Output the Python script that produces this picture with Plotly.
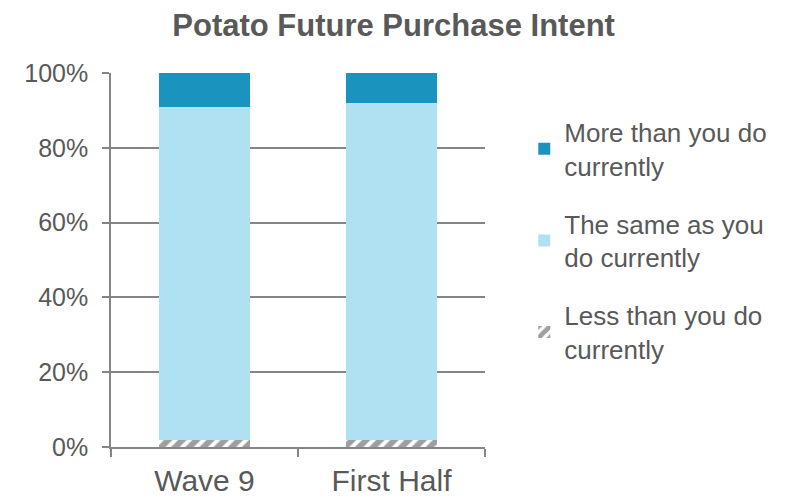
import plotly.graph_objects as go

categories = ["Wave 9", "First Half"]
less_vals = [0.02, 0.02]
same_vals = [0.89, 0.90]
more_vals = [0.09, 0.08]

series_names = ["Less than you do<br>currently", "The same as you<br>do currently", "More than you do<br>currently"]

FONT = "Liberation Sans, Arial, sans-serif"
TXT = "#595959"
AX = "#858585"

fig = go.Figure()
fig.add_trace(go.Bar(
    x=categories, y=less_vals, name=series_names[0], legendgroup="g3", legendrank=3,
    marker=dict(color="white", line=dict(width=0),
                pattern=dict(shape="/", fgcolor="#3f3f3f", bgcolor="white", size=10, solidity=0.6)),
))
fig.add_trace(go.Bar(
    x=categories, y=same_vals, name=series_names[1], legendgroup="g2", legendrank=2,
    marker=dict(color="#B0E1F2", line=dict(width=0)),
))
fig.add_trace(go.Bar(
    x=categories, y=more_vals, name=series_names[2], legendgroup="g1", legendrank=1,
    marker=dict(color="#1A93BF", line=dict(width=0)),
))

fig.update_layout(
    width=779, height=491,
    margin=dict(l=103, r=302, t=65, b=52, autoexpand=False),
    barmode="stack", bargap=0.51,
    paper_bgcolor="white", plot_bgcolor="white",
    font=dict(family=FONT, color=TXT),
    title=dict(text="<b>Potato Future Purchase Intent</b>", x=0.495, xref="container",
               xanchor="center", y=0.966, yref="container", yanchor="middle",
               font=dict(size=31, color=TXT, family=FONT)),
    showlegend=True,
    legend=dict(x=1.105, xanchor="left", y=0.905, yanchor="top",
                traceorder="grouped", tracegroupgap=21,
                font=dict(size=26, color=TXT, family=FONT),
                itemsizing="constant", bgcolor="rgba(0,0,0,0)"),
    xaxis=dict(showline=True, linecolor=AX, linewidth=1.5, automargin=False,
               ticks="outside", tickson="boundaries", ticklen=8, tickcolor=AX, tickwidth=1.5,
               tickfont=dict(size=30, color=TXT, family=FONT), ticklabelstandoff=6,
               showgrid=False),
    yaxis=dict(range=[0, 1], dtick=0.2, tickformat=".0%", automargin=False,
               showline=True, linecolor=AX, linewidth=1.5,
               ticks="outside", ticklen=7, tickcolor=AX, tickwidth=1.5,
               showgrid=True, gridcolor=AX, gridwidth=1.5, ticklabelstandoff=9,
               tickfont=dict(size=25, color=TXT, family=FONT), zeroline=False),
)

fig.write_html("out.html")
